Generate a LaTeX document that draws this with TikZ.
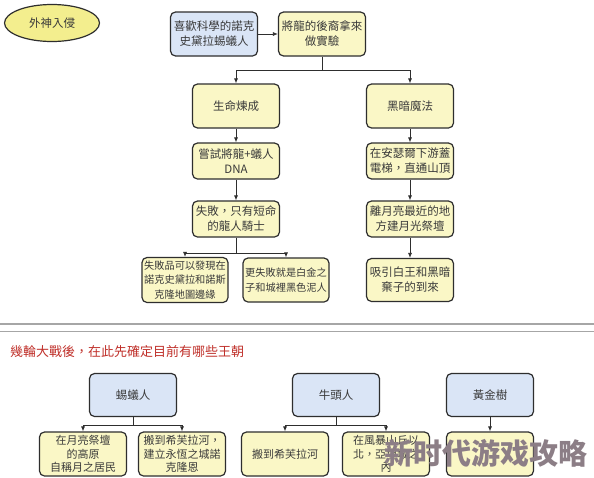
\documentclass[tikz,border=0pt]{standalone}
\usepackage{fontspec}
\setmainfont{Noto Sans CJK TC}
\newfontfamily\wmfont{Noto Sans CJK SC}
\usetikzlibrary{shapes.geometric,arrows.meta}

\definecolor{yel}{HTML}{FAF7C6}
\definecolor{ovalyel}{HTML}{F3EE8E}
\definecolor{blu}{HTML}{DAE5F6}
\definecolor{linec}{HTML}{2E2E2E}
\definecolor{txt}{HTML}{3A3A3A}
\definecolor{redtxt}{HTML}{C0302A}
\definecolor{wm}{HTML}{8C7E86}

\tikzset{
  box/.style={draw=linec, line width=1.2pt, rounded corners=5pt, fill=yel,
    minimum width=87pt, minimum height=44pt, align=center, inner sep=1pt,
    text=txt, font=\fontsize{11.5}{15}\selectfont},
  bluebox/.style={box, fill=blu},
  midbox/.style={box, minimum height=36pt},
  lowbox/.style={box, minimum width=86pt, font=\fontsize{10.2}{14.5}\selectfont},
  arr/.style={draw=linec, line width=0.8pt, -{Latex[length=5pt,width=4pt]}},
  lnk/.style={draw=linec, line width=0.8pt}
}

\begin{document}
\begin{tikzpicture}[x=1pt,y=-1pt]
				\useasboundingbox [fill=white] (0,0) rectangle (594,477);

				% top part
				\node [ellipse, draw=linec, line width=1.2pt, fill=ovalyel, minimum width=95pt,
				  minimum height=37pt, text=txt, font=\fontsize{11.5}{15}\selectfont] (invade) at (52,23) {外神入侵};
				\node [bluebox] (sci) at (214,34) {喜歡科學的諾克\\史黛拉蜴蟻人};
				\node [box] (exp) at (322,34) {將龍的後裔拿來\\做實驗};
				\draw [arr] (sci) -- (exp);

				\coordinate (fork1) at (322,70);
				\node [box] (life) at (236,106) {生命煉成};
				\node [box] (dark) at (410,106) {黑暗魔法};
				\draw [lnk] (exp) -- (fork1);
				\draw [arr] (fork1) -| (life);
				\draw [arr] (fork1) -| (dark);

				% left column
				\node [midbox] (dna) at (236,161) {嘗試將龍+蟻人\\DNA};
				\node [midbox] (fail) at (236,219) {失敗，只有短命\\的龍人騎士};
				\draw [arr] (life) -- (dna);
				\draw [arr] (dna) -- (fail);

				\coordinate (fork2) at (236,253);
				\node [lowbox, minimum height=45pt] (failA) at (185,280) {失敗品可以發現在\\諾克史黛拉和諾斯\\克隆地圖邊緣};
				\node [lowbox] (failB) at (286,280) {更失敗就是白金之\\子和城裡黑色泥人};
				\draw [lnk] (fail) -- (fork2);
				\draw [arr] (fork2) -| (failA);
				\draw [arr] (fork2) -| (failB);

				% right column
				\node [midbox] (lift) at (410,161) {在安瑟爾下游蓋\\電梯，直通山頂};
				\node [midbox] (altar) at (410,219) {離月亮最近的地\\方建月光祭壇};
				\node [box, minimum height=43pt] (king) at (410,280) {吸引白王和黑暗\\棄子的到來};
				\draw [arr] (dark) -- (lift);
				\draw [arr] (lift) -- (altar);
				\draw [arr] (altar) -- (king);

				% separator
				\draw [gray!70, line width=1.5pt] (0,324) -- (594,324);
				\draw [gray!70, line width=1pt] (0,331) -- (594,331);
				\node [anchor=west, text=redtxt, font=\fontsize{13}{15}\selectfont, inner sep=0pt] (title) at (10,352)
				  {幾輪大戰後，在此先確定目前有哪些王朝};

				% dynasties
				\node [bluebox, minimum height=43pt] (lizard) at (133,395) {蜴蟻人};
				\node [bluebox, minimum height=43pt] (bull) at (336,395) {牛頭人};
				\node [bluebox, minimum height=43pt] (gold) at (490,395) {黃金樹};

				\coordinate (fork3) at (133,425);
				\node [box, font=\fontsize{11}{13.5}\selectfont] (moon) at (83,454) {在月亮祭壇\\的高原\\自稱月之居民};
				\node [box, font=\fontsize{11}{13.5}\selectfont] (river) at (182,454) {搬到希芙拉河，\\建立永恆之城諾\\克隆恩};
				\draw [lnk] (lizard) -- (fork3);
				\draw [arr] (fork3) -| (moon);
				\draw [arr] (fork3) -| (river);

				\coordinate (fork4) at (336,425);
				\node [box, font=\fontsize{11}{13.5}\selectfont] (river2) at (285,454) {搬到希芙拉河};
				\node [box, font=\fontsize{11}{13.5}\selectfont] (storm) at (386,454) {在風暴山丘以\\北，亞坦城之\\內};
				\draw [lnk] (bull) -- (fork4);
				\draw [arr] (fork4) -| (river2);
				\draw [arr] (fork4) -| (storm);

				\node [box] (goldsub) at (490,454) {};
				\draw [arr] (gold) -- (goldsub);

				% watermark
				\node [text=wm, font=\wmfont\bfseries\fontsize{29}{29}\selectfont, inner sep=0pt] (wmark) at (486,453) {新时代游戏攻略};

			\end{tikzpicture}
\end{document}
